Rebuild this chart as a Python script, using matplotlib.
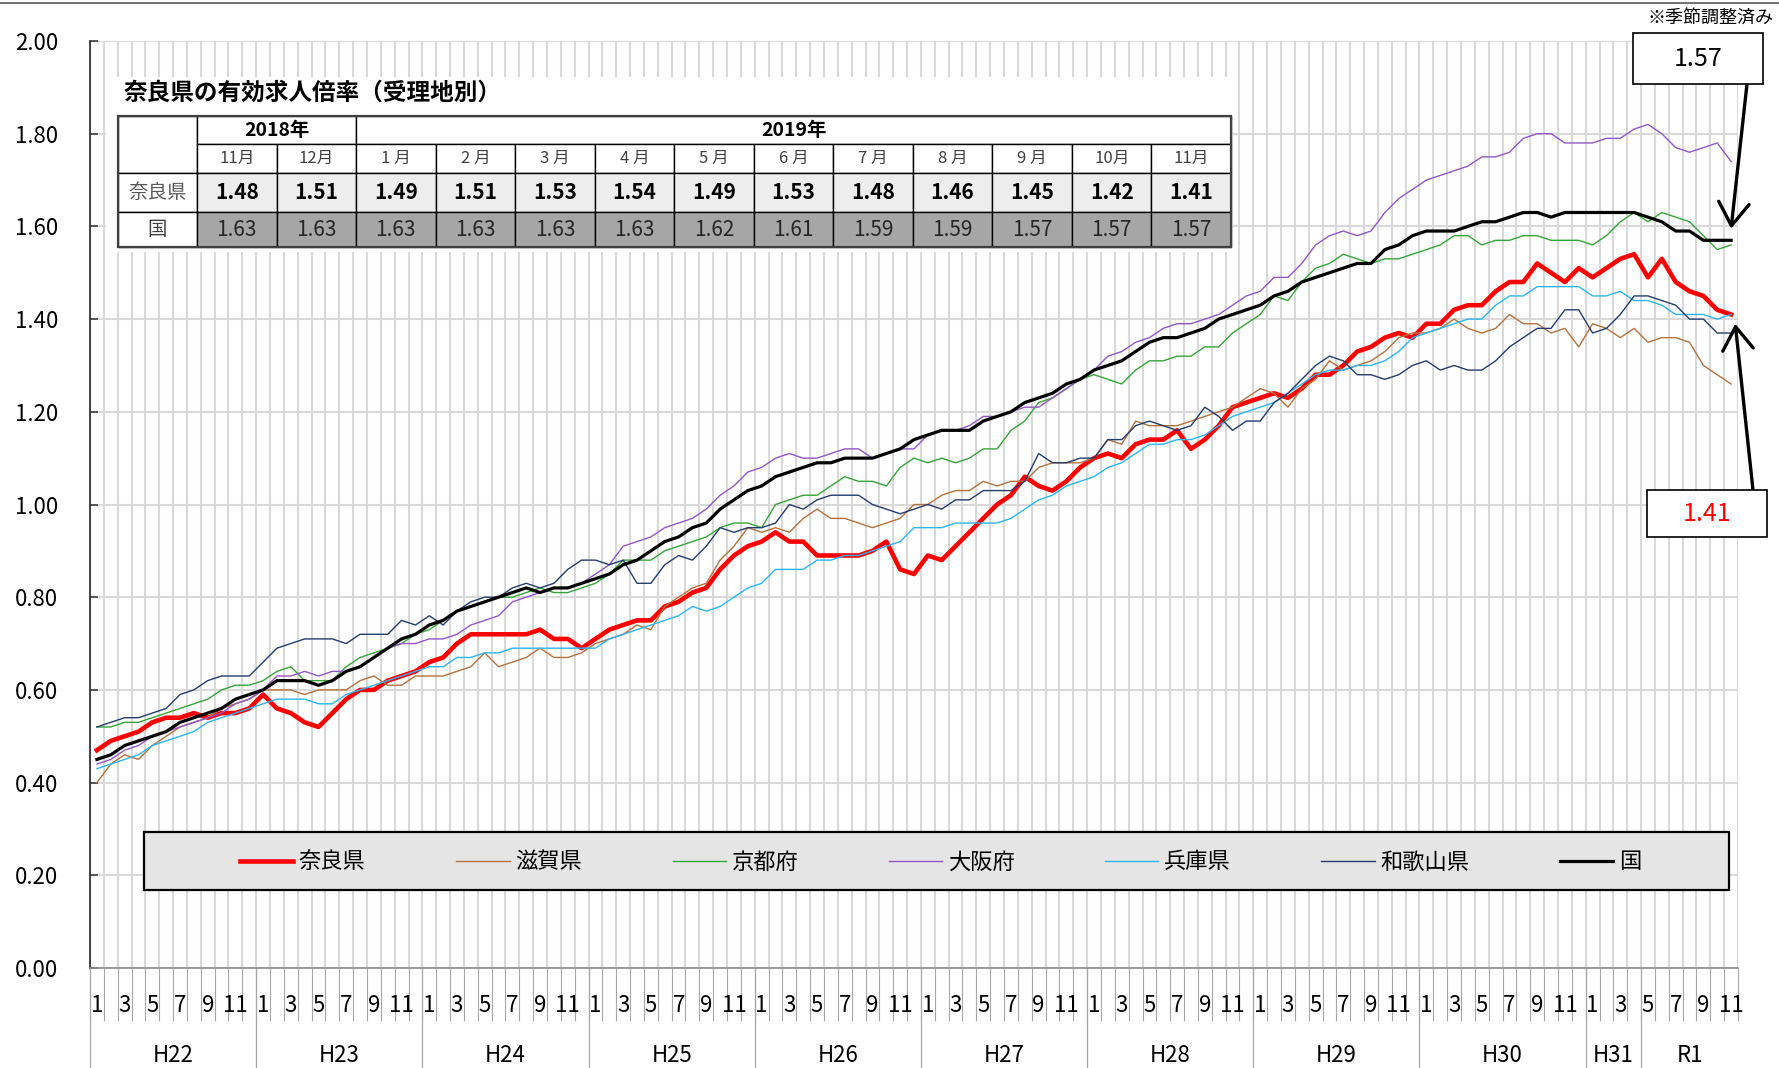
import numpy as np
import matplotlib
matplotlib.use('Agg')
import matplotlib.pyplot as plt
import matplotlib.transforms as mtrans
from matplotlib.patches import Rectangle
from matplotlib.lines import Line2D

plt.rcParams['font.family'] = ['Noto Sans CJK JP', 'DejaVu Sans']

# monthly ratios, H22.1 (2010/1) .. R1.11 (2019/11)
nara = [0.47, 0.49, 0.50, 0.51, 0.53, 0.54, 0.54, 0.55, 0.54, 0.55, 0.55, 0.56,
        0.59, 0.56, 0.55, 0.53, 0.52, 0.55, 0.58, 0.60, 0.60, 0.62, 0.63, 0.64,
        0.66, 0.67, 0.70, 0.72, 0.72, 0.72, 0.72, 0.72, 0.73, 0.71, 0.71, 0.69,
        0.71, 0.73, 0.74, 0.75, 0.75, 0.78, 0.79, 0.81, 0.82, 0.86, 0.89, 0.91,
        0.92, 0.94, 0.92, 0.92, 0.89, 0.89, 0.89, 0.89, 0.90, 0.92, 0.86, 0.85,
        0.89, 0.88, 0.91, 0.94, 0.97, 1.00, 1.02, 1.06, 1.04, 1.03, 1.05, 1.08,
        1.10, 1.11, 1.10, 1.13, 1.14, 1.14, 1.16, 1.12, 1.14, 1.17, 1.21, 1.22,
        1.23, 1.24, 1.23, 1.25, 1.28, 1.28, 1.30, 1.33, 1.34, 1.36, 1.37, 1.36,
        1.39, 1.39, 1.42, 1.43, 1.43, 1.46, 1.48, 1.48, 1.52, 1.50, 1.48, 1.51,
        1.49, 1.51, 1.53, 1.54, 1.49, 1.53, 1.48, 1.46, 1.45, 1.42, 1.41]
shiga = [0.40, 0.44, 0.46, 0.45, 0.48, 0.50, 0.52, 0.53, 0.54, 0.56, 0.57, 0.58,
         0.60, 0.60, 0.60, 0.59, 0.60, 0.60, 0.60, 0.62, 0.63, 0.61, 0.61, 0.63,
         0.63, 0.63, 0.64, 0.65, 0.68, 0.65, 0.66, 0.67, 0.69, 0.67, 0.67, 0.68,
         0.70, 0.71, 0.72, 0.74, 0.73, 0.78, 0.80, 0.82, 0.83, 0.88, 0.91, 0.95,
         0.94, 0.95, 0.94, 0.97, 0.99, 0.97, 0.97, 0.96, 0.95, 0.96, 0.97, 1.00,
         1.00, 1.02, 1.03, 1.03, 1.05, 1.04, 1.05, 1.05, 1.08, 1.09, 1.09, 1.09,
         1.10, 1.14, 1.13, 1.18, 1.17, 1.17, 1.17, 1.18, 1.19, 1.20, 1.21, 1.23,
         1.25, 1.24, 1.21, 1.25, 1.27, 1.31, 1.29, 1.30, 1.31, 1.33, 1.36, 1.37,
         1.37, 1.38, 1.40, 1.38, 1.37, 1.38, 1.41, 1.39, 1.39, 1.37, 1.38, 1.34,
         1.39, 1.38, 1.36, 1.38, 1.35, 1.36, 1.36, 1.35, 1.30, 1.28, 1.26]
kyoto = [0.52, 0.52, 0.53, 0.53, 0.54, 0.55, 0.56, 0.57, 0.58, 0.60, 0.61, 0.61,
         0.62, 0.64, 0.65, 0.62, 0.62, 0.62, 0.65, 0.67, 0.68, 0.69, 0.70, 0.72,
         0.73, 0.75, 0.77, 0.78, 0.79, 0.80, 0.80, 0.81, 0.82, 0.81, 0.81, 0.82,
         0.83, 0.85, 0.88, 0.88, 0.88, 0.90, 0.91, 0.92, 0.93, 0.95, 0.96, 0.96,
         0.95, 1.00, 1.01, 1.02, 1.02, 1.04, 1.06, 1.05, 1.05, 1.04, 1.08, 1.10,
         1.09, 1.10, 1.09, 1.10, 1.12, 1.12, 1.16, 1.18, 1.22, 1.23, 1.25, 1.27,
         1.28, 1.27, 1.26, 1.29, 1.31, 1.31, 1.32, 1.32, 1.34, 1.34, 1.37, 1.39,
         1.41, 1.45, 1.44, 1.48, 1.51, 1.52, 1.54, 1.53, 1.52, 1.53, 1.53, 1.54,
         1.55, 1.56, 1.58, 1.58, 1.56, 1.57, 1.57, 1.58, 1.58, 1.57, 1.57, 1.57,
         1.56, 1.58, 1.61, 1.63, 1.61, 1.63, 1.62, 1.61, 1.58, 1.55, 1.56]
osaka = [0.44, 0.45, 0.47, 0.48, 0.50, 0.51, 0.52, 0.53, 0.54, 0.55, 0.57, 0.58,
         0.60, 0.63, 0.63, 0.64, 0.63, 0.64, 0.64, 0.65, 0.67, 0.69, 0.70, 0.70,
         0.71, 0.71, 0.72, 0.74, 0.75, 0.76, 0.79, 0.80, 0.81, 0.82, 0.82, 0.83,
         0.85, 0.87, 0.91, 0.92, 0.93, 0.95, 0.96, 0.97, 0.99, 1.02, 1.04, 1.07,
         1.08, 1.10, 1.11, 1.10, 1.10, 1.11, 1.12, 1.12, 1.10, 1.11, 1.12, 1.12,
         1.15, 1.16, 1.16, 1.17, 1.19, 1.19, 1.20, 1.21, 1.21, 1.23, 1.25, 1.27,
         1.29, 1.32, 1.33, 1.35, 1.36, 1.38, 1.39, 1.39, 1.40, 1.41, 1.43, 1.45,
         1.46, 1.49, 1.49, 1.52, 1.56, 1.58, 1.59, 1.58, 1.59, 1.63, 1.66, 1.68,
         1.70, 1.71, 1.72, 1.73, 1.75, 1.75, 1.76, 1.79, 1.80, 1.80, 1.78, 1.78,
         1.78, 1.79, 1.79, 1.81, 1.82, 1.80, 1.77, 1.76, 1.77, 1.78, 1.74]
hyogo = [0.43, 0.44, 0.45, 0.46, 0.48, 0.49, 0.50, 0.51, 0.53, 0.54, 0.55, 0.56,
         0.57, 0.58, 0.58, 0.58, 0.57, 0.57, 0.59, 0.60, 0.61, 0.62, 0.63, 0.64,
         0.65, 0.65, 0.67, 0.67, 0.68, 0.68, 0.69, 0.69, 0.69, 0.69, 0.69, 0.69,
         0.69, 0.71, 0.72, 0.73, 0.74, 0.75, 0.76, 0.78, 0.77, 0.78, 0.80, 0.82,
         0.83, 0.86, 0.86, 0.86, 0.88, 0.88, 0.89, 0.89, 0.90, 0.91, 0.92, 0.95,
         0.95, 0.95, 0.96, 0.96, 0.96, 0.96, 0.97, 0.99, 1.01, 1.02, 1.04, 1.05,
         1.06, 1.08, 1.09, 1.11, 1.13, 1.13, 1.14, 1.14, 1.15, 1.17, 1.19, 1.20,
         1.21, 1.22, 1.24, 1.26, 1.28, 1.29, 1.29, 1.30, 1.30, 1.31, 1.33, 1.36,
         1.37, 1.38, 1.39, 1.40, 1.40, 1.43, 1.45, 1.45, 1.47, 1.47, 1.47, 1.47,
         1.45, 1.45, 1.46, 1.44, 1.44, 1.43, 1.41, 1.41, 1.41, 1.40, 1.41]
wakayama = [0.52, 0.53, 0.54, 0.54, 0.55, 0.56, 0.59, 0.60, 0.62, 0.63, 0.63, 0.63,
            0.66, 0.69, 0.70, 0.71, 0.71, 0.71, 0.70, 0.72, 0.72, 0.72, 0.75, 0.74,
            0.76, 0.74, 0.77, 0.79, 0.80, 0.80, 0.82, 0.83, 0.82, 0.83, 0.86, 0.88,
            0.88, 0.87, 0.88, 0.83, 0.83, 0.87, 0.89, 0.88, 0.91, 0.95, 0.94, 0.95,
            0.95, 0.96, 1.00, 0.99, 1.01, 1.02, 1.02, 1.02, 1.00, 0.99, 0.98, 0.99,
            1.00, 0.99, 1.01, 1.01, 1.03, 1.03, 1.03, 1.05, 1.11, 1.09, 1.09, 1.10,
            1.10, 1.14, 1.14, 1.17, 1.18, 1.17, 1.16, 1.17, 1.21, 1.19, 1.16, 1.18,
            1.18, 1.22, 1.24, 1.27, 1.30, 1.32, 1.31, 1.28, 1.28, 1.27, 1.28, 1.30,
            1.31, 1.29, 1.30, 1.29, 1.29, 1.31, 1.34, 1.36, 1.38, 1.38, 1.42, 1.42,
            1.37, 1.38, 1.41, 1.45, 1.45, 1.44, 1.43, 1.40, 1.40, 1.37, 1.37]
kuni = [0.45, 0.46, 0.48, 0.49, 0.50, 0.51, 0.53, 0.54, 0.55, 0.56, 0.58, 0.59,
        0.60, 0.62, 0.62, 0.62, 0.61, 0.62, 0.64, 0.65, 0.67, 0.69, 0.71, 0.72,
        0.74, 0.75, 0.77, 0.78, 0.79, 0.80, 0.81, 0.82, 0.81, 0.82, 0.82, 0.83,
        0.84, 0.85, 0.87, 0.88, 0.90, 0.92, 0.93, 0.95, 0.96, 0.99, 1.01, 1.03,
        1.04, 1.06, 1.07, 1.08, 1.09, 1.09, 1.10, 1.10, 1.10, 1.11, 1.12, 1.14,
        1.15, 1.16, 1.16, 1.16, 1.18, 1.19, 1.20, 1.22, 1.23, 1.24, 1.26, 1.27,
        1.29, 1.30, 1.31, 1.33, 1.35, 1.36, 1.36, 1.37, 1.38, 1.40, 1.41, 1.42,
        1.43, 1.45, 1.46, 1.48, 1.49, 1.50, 1.51, 1.52, 1.52, 1.55, 1.56, 1.58,
        1.59, 1.59, 1.59, 1.60, 1.61, 1.61, 1.62, 1.63, 1.63, 1.62, 1.63, 1.63,
        1.63, 1.63, 1.63, 1.63, 1.62, 1.61, 1.59, 1.59, 1.57, 1.57, 1.57]

series_names = ['奈良県', '滋賀県', '京都府', '大阪府', '兵庫県', '和歌山県', '国']
series_data = [nara, shiga, kyoto, osaka, hyogo, wakayama, kuni]
series_colors = ['#ff0000', '#b5713c', '#35a537', '#9356c6', '#2bb6f0', '#243c6e', '#000000']
series_widths = [3.3, 1.0, 1.0, 1.0, 1.0, 1.0, 2.3]

era_labels = ['H22', 'H23', 'H24', 'H25', 'H26', 'H27', 'H28', 'H29', 'H30', 'H31', 'R1']
era_months = [12, 12, 12, 12, 12, 12, 12, 12, 12, 4, 7]

tbl_years = ['2018年', '2019年']
tbl_year_cols = [2, 11]
tbl_months = ['11月', '12月', '1 月', '2 月', '3 月', '4 月', '5 月', '6 月',
              '7 月', '8 月', '9 月', '10月', '11月']
tbl_nara = nara[-13:]
tbl_kuni = kuni[-13:]

W, H = 1779, 1068


def fx(px):
    return px / W


def fy(py):
    return 1 - py / H


fig = plt.figure(figsize=(W / 100, H / 100), dpi=100)
ax = fig.add_axes([fx(90), fy(968), 1648 / W, 927 / H])

x = np.arange(len(nara))
lines = []
for name, vals, col, lw in zip(series_names, series_data, series_colors, series_widths):
    ln, = ax.plot(x, vals, color=col, lw=lw, label=name, solid_joinstyle='round')
    lines.append(ln)

ax.set_xlim(-0.5, len(x) - 0.5)
ax.set_ylim(0, 2.0)
ax.set_yticks(np.arange(0, 2.01, 0.2))
ax.set_yticklabels(['%.2f' % v for v in np.arange(0, 2.01, 0.2)], fontsize=16)
ax.tick_params(axis='y', direction='in', length=6, width=1.2, color='#404040', pad=23)

# month boundaries: grid lines above, short ticks below
ax.set_xticks([])
ax.set_xticks(np.arange(-0.5, len(x), 1), minor=True)
ax.tick_params(axis='x', which='minor', direction='out', length=38, width=0.8,
               color='#a6a6a6', labelbottom=False)
ax.grid(axis='y', color='#d9d9d9', lw=1.5)
ax.grid(axis='x', which='minor', color='#d9d9d9', lw=1.5)
ax.set_axisbelow(True)

for s in ['top', 'right']:
    ax.spines[s].set_visible(False)
ax.spines['left'].set_color('#262626')
ax.spines['left'].set_linewidth(1.2)
ax.spines['bottom'].set_color('#8c8c8c')
ax.spines['bottom'].set_linewidth(1.2)

# x labels: odd months and era names
trans = mtrans.blended_transform_factory(ax.transData, fig.transFigure)
for i in x:
    m = i % 12 + 1
    if m % 2 == 1:
        ax.text(i, fy(1005), str(m), transform=trans, ha='center', va='center',
                fontsize=16, clip_on=False)

start = 0
bounds = [-0.5]
for lab, n in zip(era_labels, era_months):
    ax.text(start + (n - 1) / 2, fy(1056), lab, transform=trans, ha='center',
            va='center', fontsize=16, clip_on=False)
    start += n
    bounds.append(start - 0.5)
for b in bounds[:-1]:
    ax.plot([b, b], [0, -100 / 927], color='#a6a6a6', lw=0.9, clip_on=False,
            transform=mtrans.blended_transform_factory(ax.transData, ax.transAxes))

# legend box
ax.add_patch(Rectangle((fx(144), fy(890)), fx(1729) - fx(144), fy(832) - fy(890),
                       transform=fig.transFigure, facecolor='#e5e5e5',
                       edgecolor='black', lw=1.6, zorder=4, clip_on=False))
ax.legend(lines, series_names, loc='center',
          bbox_to_anchor=(fx(240), fy(862) - 0.02, fx(1641) - fx(240), 0.04),
          bbox_transform=fig.transFigure, ncol=7, mode='expand', frameon=False,
          borderpad=0, borderaxespad=0, handlelength=2.4, handletextpad=0.25,
          fontsize=16)

# table with latest values
fig.add_artist(Rectangle((fx(106), fy(252)), fx(1233) - fx(106), fy(77) - fy(252),
                         transform=fig.transFigure, facecolor='white', edgecolor='none'))
fig.text(fx(124), fy(93), '奈良県の有効求人倍率（受理地別）', fontsize=17,
         fontweight='bold', ha='left', va='center')

rows = [116, 144, 173, 212, 247]
c0, c1 = 118, 197
cw = (1231 - c1) / 13


def cell(x0, x1, y0, y1, txt='', fc='white', **kw):
    fig.add_artist(Rectangle((fx(x0), fy(y1)), fx(x1) - fx(x0), fy(y0) - fy(y1),
                             transform=fig.transFigure, facecolor=fc,
                             edgecolor='black', lw=1.0))
    if txt:
        fig.text(fx((x0 + x1) / 2), fy((y0 + y1) / 2), txt, ha='center',
                 va='center', **kw)


cell(c0, c1, rows[0], rows[2])
cell(c0, c1, rows[2], rows[3], '奈良県', fontsize=14, color='#595959')
cell(c0, c1, rows[3], rows[4], '国', fontsize=14, color='#404040')
col = 0
for yr, n in zip(tbl_years, tbl_year_cols):
    cell(c1 + col * cw, c1 + (col + n) * cw, rows[0], rows[1], yr,
         fontsize=14, fontweight='bold')
    col += n
for j in range(13):
    xa, xb = c1 + j * cw, c1 + (j + 1) * cw
    cell(xa, xb, rows[1], rows[2], tbl_months[j], fontsize=12, color='#404040')
    cell(xa, xb, rows[2], rows[3], '%.2f' % tbl_nara[j], fc='#ededed',
         fontsize=15, fontweight='bold')
    cell(xa, xb, rows[3], rows[4], '%.2f' % tbl_kuni[j], fc='#a6a6a6',
         fontsize=15, color='#262626')
fig.add_artist(Rectangle((fx(c0), fy(rows[4])), fx(1231) - fx(c0), fy(rows[0]) - fy(rows[4]),
                         transform=fig.transFigure, facecolor='none',
                         edgecolor='#404040', lw=1.6))

# callouts
fig.add_artist(Line2D([0, 1], [fy(3), fy(3)], color='#595959', lw=1.2))
fig.text(fx(1773), fy(18), '※季節調整済み', ha='right', va='center', fontsize=13)

fig.add_artist(Rectangle((fx(1633), fy(84)), fx(1763) - fx(1633), fy(33) - fy(84),
                         transform=fig.transFigure, facecolor='white',
                         edgecolor='black', lw=1.2))
fig.text(fx(1698), fy(59), '%.2f' % kuni[-1], ha='center', va='center', fontsize=18)
fig.add_artist(Rectangle((fx(1647), fy(537)), fx(1767) - fx(1647), fy(490) - fy(537),
                         transform=fig.transFigure, facecolor='white',
                         edgecolor='black', lw=1.2))
fig.text(fx(1707), fy(514), '%.2f' % nara[-1], ha='center', va='center',
         fontsize=18, color='#ff0000')

arrow = dict(arrowstyle='->,head_length=0.75,head_width=0.5', color='black',
             lw=2.4, shrinkA=0, shrinkB=0, mutation_scale=22)
ax.annotate('', xy=(x[-1], kuni[-1] + 0.025), xytext=(1747, H - 84),
            textcoords='figure pixels', arrowprops=arrow, annotation_clip=False)
ax.annotate('', xy=(x[-1] + 0.3, nara[-1] - 0.02), xytext=(1753, H - 490),
            textcoords='figure pixels', arrowprops=arrow, annotation_clip=False)

fig.savefig('out.png', dpi=100)
